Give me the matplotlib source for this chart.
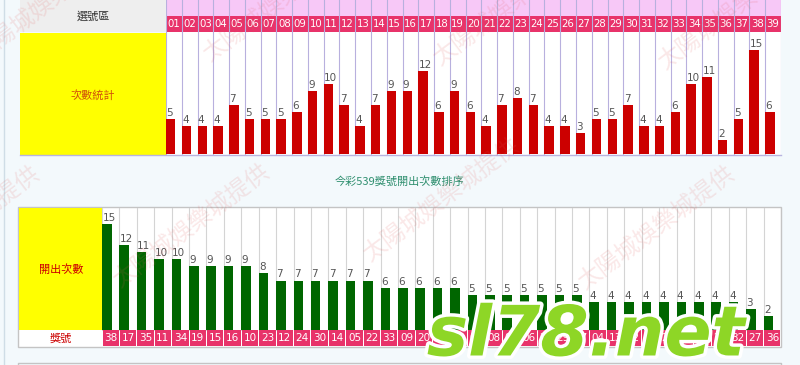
import matplotlib
matplotlib.use('Agg')
import matplotlib.pyplot as plt
from matplotlib.patches import Rectangle
import matplotlib.patheffects as pe

plt.rcParams['font.family'] = ['Noto Sans CJK TC', 'DejaVu Sans']

# data
numbers = ['%02d' % i for i in range(1, 40)]
counts = [5, 4, 4, 4, 7, 5, 5, 5, 6, 9, 10, 7, 4, 7, 9, 9, 12, 6, 9, 6,
          4, 7, 8, 7, 4, 4, 3, 5, 5, 7, 4, 4, 6, 10, 11, 2, 5, 15, 6]
sorted_numbers = ['38', '17', '35', '11', '34', '19', '15', '16', '10', '23',
                  '12', '24', '30', '14', '05', '22', '33', '09', '20', '18',
                  '39', '07', '08', '01', '06', '28', '29', '37', '04', '13',
                  '02', '31', '21', '03', '25', '26', '32', '27', '36']
sorted_counts = [15, 12, 11, 10, 10, 9, 9, 9, 9, 8, 7, 7, 7, 7, 7, 7, 6, 6, 6, 6,
                 6, 5, 5, 5, 5, 5, 5, 5, 4, 4, 4, 4, 4, 4, 4, 4, 4, 3, 2]
title_top = '選號區'
label_top = '次數統計'
middle_title = '今彩539獎號開出次數排序'
label_bottom = '開出次數'
label_num = '獎號'
watermark = '太陽城娛樂城提供'
logo = 'sl78.net'

W, H = 800, 365
fig = plt.figure(figsize=(W / 100, H / 100), dpi=100)
fig.patch.set_facecolor('#f3f9fc')

# background axes in pixel coordinates
bg = fig.add_axes([0, 0, 1, 1])
bg.set_xlim(0, W)
bg.set_ylim(H, 0)
bg.axis('off')


def box(x0, y0, x1, y1, fc, ec='none', lw=0, z=1):
    bg.add_patch(Rectangle((x0, y0), x1 - x0, y1 - y0, facecolor=fc,
                           edgecolor=ec, linewidth=lw, zorder=z))


def pix_axes(x0, y0, x1, y1):
    a = fig.add_axes([x0 / W, 1 - y1 / H, (x1 - x0) / W, (y1 - y0) / H])
    a.axis('off')
    return a


# page border
bg.plot([4, 4], [0, H], color='#cfdde6', lw=1)

# ---- top table ----
tx0, tx1 = 166, 781
box(20, 0, tx0, 32, '#eeeeee')
bg.text(93, 16, title_top, ha='center', va='center', fontsize=8, color='#333333')
box(tx0, 0, tx1, 16, '#f7c8f7')
box(tx0, 16, tx1, 32, '#e8336a')
box(tx0, 32, tx1, 155, 'white')
box(20, 33, tx0, 155, '#ffff00')
bg.text(93, 95, label_top, ha='center', va='center', fontsize=8, color='#d2510a')
bg.plot([20, tx1], [155, 155], color='#b8b4e0', lw=1)

ax1 = pix_axes(tx0, 0, tx1, 155)
ax1.set_xlim(0, len(numbers))
ax1.set_ylim(-1 / 7, 155 / 7)
for i in range(len(numbers) + 1):
    ax1.axvline(i, color='#b8b0de', lw=0.8, zorder=1)
ax1.bar(range(len(counts)), counts, width=0.6, align='edge', color='#cc0000', zorder=3)
for i, v in enumerate(counts):
    ax1.text(i + 0.02, v + 0.15, str(v), ha='left', va='bottom', fontsize=7.5,
             color='#555555', family='DejaVu Sans', zorder=4)
for i, n in enumerate(numbers):
    ax1.text(i + 0.5, 155 / 7 - 24 / 7, n, ha='center', va='center', fontsize=7.3,
             color='white', family='DejaVu Sans', zorder=4)

# ---- middle title ----
bg.text(400, 181, middle_title, ha='center', va='center', fontsize=8, color='#2f8f6f')

# ---- bottom table ----
bx0, bx1 = 102, 781
box(18, 207, bx1, 347, 'white', ec='#c4c4c4', lw=1)
box(19, 208, bx0, 330, '#ffff00', z=2)
bg.text(61, 270, label_bottom, ha='center', va='center', fontsize=8, color='#cc0000', zorder=3)
bg.text(61, 338.5, label_num, ha='center', va='center', fontsize=8, color='#cc0000', zorder=3)
bg.plot([18, 18, bx1, bx1], [H, 363, 363, H], color='#c4c4c4', lw=1)

ax2 = pix_axes(bx0, 208, bx1, 347)
ax2.set_xlim(0, len(sorted_numbers))
ax2.set_ylim(-17 / 7.07, 122 / 7.07)
for i in range(len(sorted_numbers) + 1):
    ax2.plot([i, i], [0, 122 / 7.07], color='#d4d4d4', lw=0.8, zorder=1)
ax2.bar(range(len(sorted_counts)), sorted_counts, width=0.55, align='edge',
        color='#006600', zorder=3)
for i, v in enumerate(sorted_counts):
    ax2.text(i + 0.02, v + 0.15, str(v), ha='left', va='bottom', fontsize=7.5,
             color='#555555', family='DejaVu Sans', zorder=4)
for i, n in enumerate(sorted_numbers):
    ax2.add_patch(Rectangle((i + 0.03, -16 / 7.07), 0.94, 16 / 7.07,
                            facecolor='#e8336a', edgecolor='none', zorder=2))
    ax2.text(i + 0.5, -8 / 7.07, n, ha='center', va='center', fontsize=7.5,
             color='white', family='DejaVu Sans', zorder=4)

# faint diagonal watermarks
wm_starts = [(-20, 62), (210, 62), (440, 66), (665, 70),
             (-110, 290), (120, 288), (370, 262), (585, 290)]
for sx, sy in wm_starts:
    fig.text(sx / W, 1 - sy / H, watermark, ha='left', va='baseline', rotation=37,
             rotation_mode='anchor', fontsize=17, color='#e05a5a', alpha=0.14, zorder=20)

# logo overlay
fig.text(586 / W, 1 - 336 / H, logo, ha='center', va='center', fontsize=50,
         fontweight='heavy', style='italic', color='#8ed626', family='DejaVu Sans',
         zorder=30, path_effects=[pe.withStroke(linewidth=5, foreground='white')])

fig.savefig('out.png', dpi=100, facecolor=fig.get_facecolor())
